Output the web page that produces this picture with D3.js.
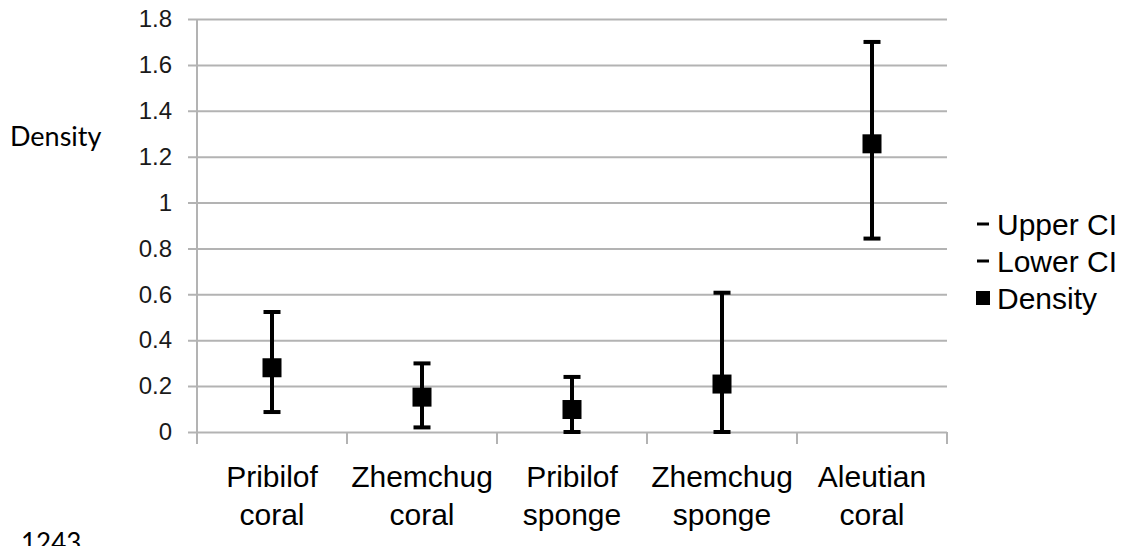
<!DOCTYPE html>
<html>
<head>
<meta charset="utf-8">
<script src="https://cdn.jsdelivr.net/npm/d3@7"></script>
<style>
  html, body { margin: 0; padding: 0; background: #fff; }
  svg { display: block; }
  .tick text { font-family: "Liberation Sans", Arial, sans-serif; }
</style>
</head>
<body>
<svg id="chart" width="1128" height="546"></svg>
<script>
// Site categories, each drawn on two lines
const categories = ["Pribilof coral", "Zhemchug coral", "Pribilof sponge", "Zhemchug sponge", "Aleutian coral"];
const categoryLines = [["Pribilof", "coral"], ["Zhemchug", "coral"], ["Pribilof", "sponge"], ["Zhemchug", "sponge"], ["Aleutian", "coral"]];

// Density estimate with its confidence interval
const density = [0.28, 0.152, 0.098, 0.209, 1.256];
const upperCI = [0.523, 0.299, 0.24, 0.607, 1.70];
const lowerCI = [0.087, 0.02, 0.0, 0.0, 0.843];

const yTicks = [0, 0.2, 0.4, 0.6, 0.8, 1, 1.2, 1.4, 1.6, 1.8];
const legendItems = ["Upper CI", "Lower CI", "Density"];

const svg = d3.select("#chart");
const plotLeft = 197, plotRight = 947, plotTop = 19, plotBottom = 432;

const y = d3.scaleLinear().domain([0, 1.8]).range([plotBottom, plotTop]);
const x = d3.scaleBand().domain(categories).range([plotLeft, plotRight]).padding(0);

// Horizontal gridlines and value labels
const yAxis = d3.axisLeft(y)
  .tickValues(yTicks)
  .tickFormat(d => String(d))
  .tickSize(-(plotRight - 188))
  .tickPadding(16);

const gy = svg.append("g").attr("transform", "translate(188,0)").call(yAxis);
gy.select(".domain").remove();
gy.selectAll(".tick line").attr("stroke", "#b3b3b3").attr("stroke-width", 2);
gy.selectAll(".tick text")
  .attr("font-size", 24)
  .attr("fill", "#1a1a1a");

// Vertical axis line
svg.append("line")
  .attr("x1", plotLeft).attr("x2", plotLeft)
  .attr("y1", y(1.8)).attr("y2", plotBottom + 12)
  .attr("stroke", "#b3b3b3").attr("stroke-width", 2);

// Category boundary ticks
svg.append("g").selectAll("line")
  .data(categories)
  .join("line")
  .attr("x1", d => x(d) + x.bandwidth())
  .attr("x2", d => x(d) + x.bandwidth())
  .attr("y1", plotBottom).attr("y2", plotBottom + 12)
  .attr("stroke", "#b3b3b3").attr("stroke-width", 2);

// Category labels
const labels = svg.append("g")
  .attr("font-family", "'Liberation Sans', Arial, sans-serif")
  .attr("font-size", 30)
  .attr("fill", "#000")
  .attr("text-anchor", "middle");
categories.forEach((c, i) => {
  const t = labels.append("text").attr("x", x(c) + x.bandwidth() / 2).attr("y", 487);
  t.append("tspan").attr("x", x(c) + x.bandwidth() / 2).attr("y", 487).text(categoryLines[i][0]);
  t.append("tspan").attr("x", x(c) + x.bandwidth() / 2).attr("y", 525).text(categoryLines[i][1]);
});

// Error bars with caps
const cx = d => x(d) + x.bandwidth() / 2;
const bars = svg.append("g").attr("stroke", "#000").attr("stroke-width", 4);
bars.selectAll("line.stem")
  .data(categories)
  .join("line")
  .attr("class", "stem")
  .attr("x1", cx).attr("x2", cx)
  .attr("y1", (d, i) => y(upperCI[i]))
  .attr("y2", (d, i) => y(lowerCI[i]));
bars.selectAll("line.ucap")
  .data(categories)
  .join("line")
  .attr("class", "ucap")
  .attr("x1", d => cx(d) - 8.5).attr("x2", d => cx(d) + 8.5)
  .attr("y1", (d, i) => y(upperCI[i]))
  .attr("y2", (d, i) => y(upperCI[i]));
bars.selectAll("line.lcap")
  .data(categories)
  .join("line")
  .attr("class", "lcap")
  .attr("x1", d => cx(d) - 8.5).attr("x2", d => cx(d) + 8.5)
  .attr("y1", (d, i) => y(lowerCI[i]))
  .attr("y2", (d, i) => y(lowerCI[i]));

// Density markers
svg.append("g").selectAll("rect")
  .data(categories)
  .join("rect")
  .attr("x", d => cx(d) - 9.5)
  .attr("y", (d, i) => y(density[i]) - 9.5)
  .attr("width", 19).attr("height", 19)
  .attr("fill", "#000");

// Legend
const legend = svg.append("g")
  .attr("font-family", "'Liberation Sans', Arial, sans-serif")
  .attr("font-size", 30)
  .attr("fill", "#000");
legendItems.forEach((name, i) => {
  const cyL = 224 + i * 37;
  if (i < 2) {
    legend.append("line")
      .attr("x1", 977).attr("x2", 989)
      .attr("y1", cyL).attr("y2", cyL)
      .attr("stroke", "#000").attr("stroke-width", 3);
  } else {
    legend.append("rect")
      .attr("x", 976).attr("y", cyL - 7)
      .attr("width", 14).attr("height", 14)
      .attr("fill", "#000");
  }
  legend.append("text")
    .attr("x", 997).attr("y", cyL)
    .attr("dy", "0.35em")
    .text(name);
});

// Axis title and page number
svg.append("text")
  .attr("x", 10).attr("y", 146)
  .attr("font-family", "Lato, 'Open Sans', sans-serif")
  .attr("font-size", 27)
  .attr("fill", "#000")
  .text("Density");

svg.append("text")
  .attr("x", 21).attr("y", 552)
  .attr("font-family", "Lato, 'Open Sans', sans-serif")
  .attr("font-size", 26)
  .attr("fill", "#000")
  .text("1243");
</script>
</body>
</html>
